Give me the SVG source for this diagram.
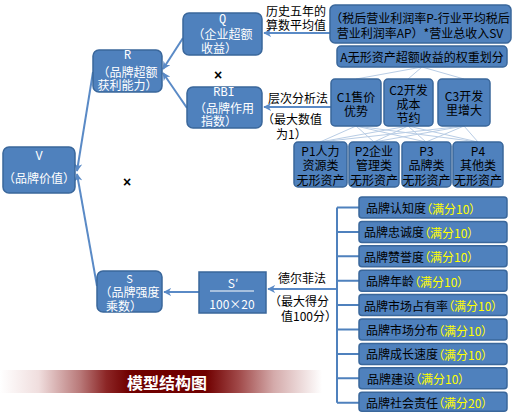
<svg xmlns="http://www.w3.org/2000/svg" width="518" height="412" viewBox="0 0 518 412">
<defs>
<style>
.box{fill:#4f81bd;stroke:#3a679b;stroke-width:1.5}
.t{font-family:"Noto Sans CJK SC","Liberation Sans",sans-serif;font-size:12px;text-anchor:middle;dominant-baseline:central}
.w{fill:#ffffff}
.k{fill:#000000}
.m{font-family:"Liberation Mono","Noto Sans CJK SC",monospace;font-size:12px}
.lbl{font-family:"Noto Sans CJK SC","Liberation Sans",sans-serif;font-size:12px;fill:#000;dominant-baseline:central}
.li{font-family:"Noto Sans CJK SC","Liberation Sans",sans-serif;font-size:12px;fill:#000;dominant-baseline:central;font-feature-settings:"palt"}
.y{fill:#ffff00}
.arr{stroke:#5a8ac6;stroke-width:2;fill:none;marker-end:url(#ah)}
.fan{stroke:#b9cde5;stroke-width:1;fill:none}
.br{stroke:#4f81bd;stroke-width:2;fill:none}
.x{font-family:"Liberation Sans",sans-serif;font-size:14px;font-weight:bold;fill:#000;text-anchor:middle;dominant-baseline:central}
</style>
<marker id="ah" viewBox="0 0 10 10" refX="9" refY="5" markerWidth="4" markerHeight="4" orient="auto" markerUnits="strokeWidth">
<path d="M0,0 L10,5 L0,10 L3,5 z" fill="#5a8ac6"/>
</marker>
<linearGradient id="bg" x1="0" y1="0" x2="1" y2="0">
<stop offset="0" stop-color="#ffffff"/>
<stop offset="0.12" stop-color="#f0dede"/>
<stop offset="0.25" stop-color="#b87878"/>
<stop offset="0.33" stop-color="#8c2626"/>
<stop offset="0.40" stop-color="#700000"/>
<stop offset="0.64" stop-color="#700000"/>
<stop offset="0.74" stop-color="#a04848"/>
<stop offset="0.85" stop-color="#d4aaaa"/>
<stop offset="1" stop-color="#ffffff"/>
</linearGradient>
</defs>

<g id="banner">
<rect x="0" y="370" width="322" height="23" fill="url(#bg)"/>
<text x="167" y="382" font-family="'Noto Sans CJK SC',sans-serif" font-size="16" font-weight="bold" fill="#ffffff" text-anchor="middle" dominant-baseline="central">模型结构图</text>
</g>

<g id="connectors">
<line class="fan" x1="422" y1="67" x2="356" y2="79"/>
<line class="fan" x1="422" y1="67" x2="408" y2="79"/>
<line class="fan" x1="422" y1="67" x2="464" y2="79"/>
<line class="fan" x1="356" y1="126" x2="320" y2="142"/>
<line class="fan" x1="356" y1="126" x2="374" y2="142"/>
<line class="fan" x1="356" y1="126" x2="426" y2="142"/>
<line class="fan" x1="356" y1="126" x2="478" y2="142"/>
<line class="fan" x1="408" y1="126" x2="320" y2="142"/>
<line class="fan" x1="408" y1="126" x2="374" y2="142"/>
<line class="fan" x1="408" y1="126" x2="426" y2="142"/>
<line class="fan" x1="408" y1="126" x2="478" y2="142"/>
<line class="fan" x1="464" y1="126" x2="320" y2="142"/>
<line class="fan" x1="464" y1="126" x2="374" y2="142"/>
<line class="fan" x1="464" y1="126" x2="426" y2="142"/>
<line class="fan" x1="464" y1="126" x2="478" y2="142"/>
<line class="arr" x1="93" y1="72" x2="77" y2="171"/>
<line class="arr" x1="97" y1="286" x2="77" y2="174"/>
<line class="arr" x1="183" y1="38" x2="163" y2="69"/>
<line class="arr" x1="187" y1="108" x2="163" y2="73"/>
<line class="arr" x1="330" y1="33" x2="264" y2="33"/>
<line class="arr" x1="331" y1="107" x2="264" y2="107"/>
<line class="arr" x1="199" y1="292" x2="164" y2="292"/>
<line class="arr" x1="337" y1="289" x2="268" y2="289"/>
<path class="br" d="M337,207.5 V402.7 M337,207.5 H359 M337,231.9 H359 M337,256.3 H359 M337,280.7 H359 M337,305.1 H359 M337,329.5 H359 M337,353.9 H359 M337,378.3 H359 M337,402.7 H359"/>
</g>

<text class="x" x="218" y="75">×</text>
<text class="x" x="127" y="182">×</text>

<g id="V">
<rect class="box" x="3" y="147" width="72" height="46" rx="6"/>
<text class="t w"><tspan class="m" x="39" y="157">V</tspan><tspan x="39" y="177">（品牌价值）</tspan></text>
</g>
<g id="R">
<rect class="box" x="93" y="50" width="69" height="42" rx="6"/>
<text class="t w"><tspan class="m" x="127.5" y="56">R</tspan><tspan x="127.5" y="71">（品牌超额</tspan><tspan x="127.5" y="84">获利能力）</tspan></text>
</g>
<g id="Q">
<rect class="box" x="183" y="13" width="79" height="42" rx="6"/>
<text class="t w"><tspan class="m" x="222.5" y="20">Q</tspan><tspan x="222.5" y="33">（企业超额</tspan><tspan x="219" y="47">收益）</tspan></text>
</g>
<g id="RBI">
<rect class="box" x="187" y="87" width="75" height="41" rx="6"/>
<text class="t w"><tspan class="m" x="224" y="93">RBI</tspan><tspan x="224" y="107">（品牌作用</tspan><tspan x="219" y="120">指数）</tspan></text>
</g>
<g id="S">
<rect class="box" x="97" y="271" width="65" height="41" rx="6"/>
<text class="t w"><tspan x="129.5" y="278" font-size="11">S</tspan><tspan x="129.5" y="291">（品牌强度</tspan><tspan x="124" y="305">乘数）</tspan></text>
</g>
<g id="Sprime">
<rect class="box" x="199" y="272" width="67" height="41" rx="0"/>
<line x1="210" y1="291" x2="254" y2="291" stroke="#ffffff" stroke-width="1"/>
<text class="t w"><tspan x="233" y="282">S′</tspan><tspan x="232" y="303">100×20</tspan></text>
</g>

<g id="formula">
<rect class="box" x="330" y="5" width="181" height="38" rx="5"/>
<text class="t k"><tspan x="420" y="17">（税后营业利润率P-行业平均税后</tspan><tspan x="420" y="32">营业利润率AP）*营业总收入SV</tspan></text>
</g>
<g id="A">
<rect class="box" x="337" y="46" width="170" height="21" rx="4"/>
<text class="t k" x="422" y="56.5">A无形资产超额收益的权重划分</text>
</g>
<g id="C1">
<rect class="box" x="331" y="79" width="50" height="47" rx="4"/>
<text class="t k"><tspan x="356" y="96">C1售价</tspan><tspan x="356" y="110">优势</tspan></text>
</g>
<g id="C2">
<rect class="box" x="384" y="79" width="49" height="47" rx="4"/>
<text class="t k"><tspan x="408.5" y="89">C2开发</tspan><tspan x="408.5" y="103">成本</tspan><tspan x="408.5" y="117">节约</tspan></text>
</g>
<g id="C3">
<rect class="box" x="438" y="79" width="52" height="47" rx="4"/>
<text class="t k"><tspan x="464" y="95">C3开发</tspan><tspan x="464" y="109">里增大</tspan></text>
</g>
<g id="P1">
<rect class="box" x="294" y="142" width="53" height="45" rx="4"/>
<text class="t k"><tspan x="320.5" y="150">P1人力</tspan><tspan x="320.5" y="164">资源类</tspan><tspan x="320.5" y="179">无形资产</tspan></text>
</g>
<g id="P2">
<rect class="box" x="349" y="142" width="50" height="45" rx="4"/>
<text class="t k"><tspan x="374" y="150">P2企业</tspan><tspan x="374" y="164">管理类</tspan><tspan x="374" y="179">无形资产</tspan></text>
</g>
<g id="P3">
<rect class="box" x="402" y="142" width="49" height="45" rx="4"/>
<text class="t k"><tspan x="426.5" y="150">P3</tspan><tspan x="426.5" y="164">品牌类</tspan><tspan x="426.5" y="179">无形资产</tspan></text>
</g>
<g id="P4">
<rect class="box" x="453" y="142" width="50" height="45" rx="4"/>
<text class="t k"><tspan x="478" y="150">P4</tspan><tspan x="478" y="164">其他类</tspan><tspan x="478" y="179">无形资产</tspan></text>
</g>

<g id="labels">
<text class="lbl"><tspan x="266" y="10">历史五年的</tspan><tspan x="266" y="24">算数平均值</tspan></text>
<text class="lbl"><tspan x="268" y="97">层次分析法</tspan><tspan x="262" y="118">（最大数值</tspan><tspan x="276" y="133">为1）</tspan></text>
<text class="lbl"><tspan x="278" y="277">德尔菲法</tspan><tspan x="269" y="300">（最大得分</tspan><tspan x="281" y="315">值100分）</tspan></text>
</g>

<g id="L1"><rect class="box" x="359" y="197" width="148" height="21" rx="3"/><text class="li" x="366" y="207.5">品牌认知度<tspan class="y">（满分10）</tspan></text></g>
<g id="L2"><rect class="box" x="359" y="221.4" width="148" height="21" rx="3"/><text class="li" x="364" y="231.9">品牌忠诚度<tspan class="y">（满分10）</tspan></text></g>
<g id="L3"><rect class="box" x="359" y="245.8" width="148" height="21" rx="3"/><text class="li" x="364" y="256.3">品牌赞誉度<tspan class="y">（满分10）</tspan></text></g>
<g id="L4"><rect class="box" x="359" y="270.2" width="148" height="21" rx="3"/><text class="li" x="366" y="280.7">品牌年龄<tspan class="y">（满分10）</tspan></text></g>
<g id="L5"><rect class="box" x="359" y="294.6" width="148" height="21" rx="3"/><text class="li" x="364" y="305.1">品牌市场占有率<tspan class="y">（满分10）</tspan></text></g>
<g id="L6"><rect class="box" x="359" y="319" width="148" height="21" rx="3"/><text class="li" x="366" y="329.5">品牌市场分布<tspan class="y">（满分10）</tspan></text></g>
<g id="L7"><rect class="box" x="359" y="343.4" width="148" height="21" rx="3"/><text class="li" x="366" y="353.9">品牌成长速度<tspan class="y">（满分10）</tspan></text></g>
<g id="L8"><rect class="box" x="359" y="367.8" width="148" height="21" rx="3"/><text class="li" x="367" y="378.3">品牌建设<tspan class="y">（满分10）</tspan></text></g>
<g id="L9"><rect class="box" x="359" y="392.2" width="148" height="19" rx="3"/><text class="li" x="366" y="402">品牌社会责任<tspan class="y">（满分20）</tspan></text></g>
</svg>
